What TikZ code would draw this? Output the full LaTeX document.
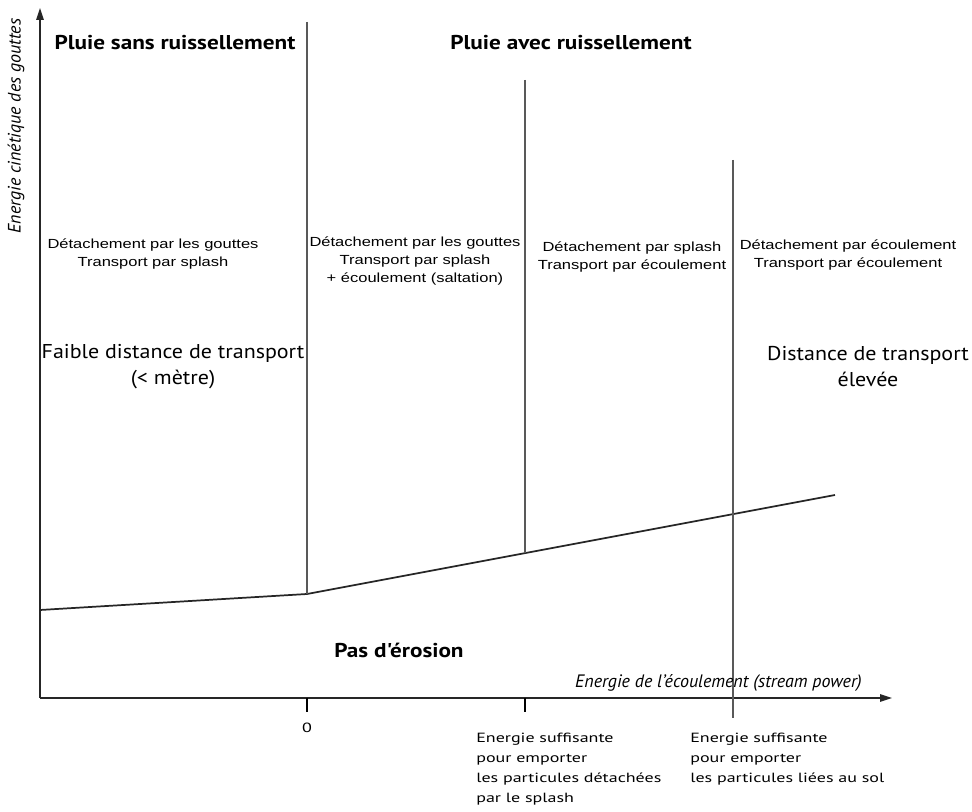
\documentclass[tikz,border=0pt]{standalone}
\usepackage{fontspec}
\setmainfont{PT Sans}
\newfontfamily\procfont[FakeStretch=1.25]{Liberation Sans}
\newfontfamily\titrefont[FakeStretch=1.16]{PT Sans}
\newfontfamily\porteefont[FakeStretch=1.1]{PT Sans}
\newfontfamily\seuilfont[FakeStretch=1.35]{PT Sans}
\usetikzlibrary{arrows.meta}

\begin{document}
\begin{tikzpicture}[x=0.75pt,y=-0.75pt,
    axe/.style={line width=1.3pt,draw=black!85,-{Triangle[length=9pt,width=5.5pt]}},
    limite/.style={line width=0.9pt,draw=black!65},
    seuilcourbe/.style={line width=1.3pt,draw=black!85},
    titre/.style={font=\titrefont\bfseries\fontsize{15}{18}\selectfont,inner sep=0pt},
    processus/.style={font=\procfont\fontsize{9.9}{13.8}\selectfont,align=center,inner sep=0pt},
    portee/.style={font=\porteefont\fontsize{15}{19.5}\selectfont,align=center,inner sep=0pt},
    seuil/.style={font=\seuilfont\fontsize{10}{15}\selectfont,align=left,anchor=north west,inner sep=0pt},
    axelabel/.style={font=\itshape\fontsize{13.5}{15}\selectfont,inner sep=0pt}]
\useasboundingbox (0,0) rectangle (972,812);

% axes
\coordinate (O) at (40,698);
\coordinate (ytop) at (40,8);
\coordinate (xend) at (892,698);
\draw[axe] (O) -- (ytop);
\draw[axe] (O) -- (xend);

% seuil d'erosion
\coordinate (c0) at (40,610);
\coordinate (c1) at (307,594);
\coordinate (c2) at (525,553);
\coordinate (c3) at (733,514);
\coordinate (c4) at (835,495);
\draw[seuilcourbe] (c0) -- (c1) -- (c4);

% limites verticales
\coordinate (l1) at (307,22);
\coordinate (l2) at (525,80);
\coordinate (l3) at (733,160);
\coordinate (t1) at (307,712);
\coordinate (t2) at (525,712);
\coordinate (t3) at (733,718);
\draw[limite] (l1) -- (c1);
\draw[limite] (l2) -- (c2);
\draw[limite] (l3) -- (t3);
\draw[line width=1.3pt] (307,698) -- (t1);
\draw[line width=1.3pt] (525,698) -- (t2);

% titres
\node[titre] (sans) at (175,43) {Pluie sans ruissellement};
\node[titre] (avec) at (571,43) {Pluie avec ruissellement};
\node[titre] (pas) at (399,650) {Pas d'érosion};

% processus
\node[processus] (p1) at (153,254) {Détachement par les gouttes\\Transport par splash};
\node[processus] (p2) at (415,261) {Détachement par les gouttes\\Transport par splash\\+ écoulement (saltation)};
\node[processus] (p3) at (632,257) {Détachement par splash\\Transport par écoulement};
\node[processus] (p4) at (848,255) {Détachement par écoulement\\Transport par écoulement};

% distances
\node[portee] (d1) at (173,367) {Faible distance de transport\\(< mètre)};
\node[portee] (d2) at (868,367) {Distance de transport\\élevée};

% axes
\node[axelabel,rotate=90] (ylab) at (16,126) {Energie cinétique des gouttes};
\node[axelabel,anchor=east] (xlab) at (862,683) {Energie de l'écoulement (stream power)};
\node[font=\seuilfont\fontsize{10}{12}\selectfont,inner sep=0pt] (zero) at (307,728) {0};

% seuils
\node[seuil] (s1) at (476,733) {Energie suffisante\\pour emporter\\les particules détachées\\par le splash};
\node[seuil] (s2) at (690,733) {Energie suffisante\\pour emporter\\les particules liées au sol};
\end{tikzpicture}
\end{document}
